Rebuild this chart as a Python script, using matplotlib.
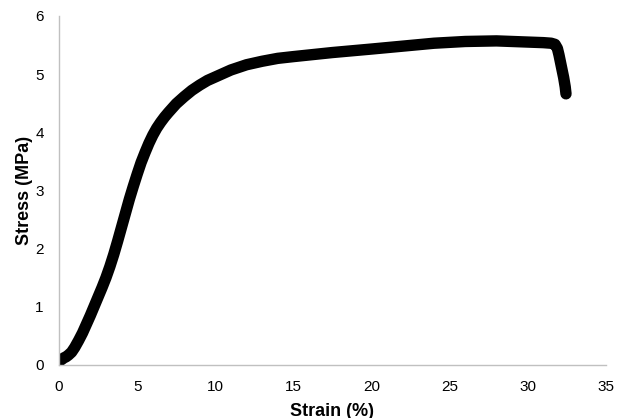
import matplotlib
matplotlib.use("Agg")
import matplotlib.pyplot as plt
import numpy as np

strain = [0.0, 0.15, 0.3, 0.45, 0.6, 0.8, 1.0, 1.25, 1.5, 1.75, 2.0, 2.25, 2.5,
          2.75, 3.0, 3.25, 3.5, 3.75, 4.0, 4.25, 4.5, 4.75, 5.0, 5.25, 5.5,
          5.75, 6.0, 6.25, 6.5, 6.75, 7.0, 7.5, 8.0, 8.5, 9.0, 9.5, 10.0,
          11.0, 12.0, 13.0, 14.0, 15.0, 17.5, 20.0, 22.0, 24.0, 26.0, 28.0,
          30.0, 31.0, 31.5, 31.75, 31.9, 32.0, 32.1, 32.2, 32.3, 32.4, 32.45]
stress = [0.06, 0.09, 0.12, 0.14, 0.17, 0.22, 0.30, 0.42, 0.55, 0.70, 0.85,
          1.01, 1.17, 1.33, 1.50, 1.69, 1.90, 2.13, 2.37, 2.61, 2.85, 3.07,
          3.28, 3.48, 3.65, 3.81, 3.95, 4.07, 4.17, 4.26, 4.34, 4.49, 4.61,
          4.72, 4.81, 4.89, 4.95, 5.07, 5.16, 5.22, 5.27, 5.30, 5.37, 5.43,
          5.48, 5.53, 5.56, 5.57, 5.55, 5.54, 5.53, 5.51, 5.44, 5.33, 5.20,
          5.07, 4.94, 4.78, 4.66]
xticks = [0, 5, 10, 15, 20, 25, 30, 35]
yticks = [0, 1, 2, 3, 4, 5, 6]

plt.rcParams['font.family'] = ['Liberation Sans', 'DejaVu Sans']

fig = plt.figure(figsize=(6.22, 4.18), dpi=100)
ax = fig.add_axes([0.095, 0.127, 0.879, 0.835])
ax.plot(strain, stress, color='black', lw=8.2, solid_capstyle='round',
        solid_joinstyle='round')
ax.set_xlim(0, 35)
ax.set_ylim(0, 6)
ax.set_xticks(xticks)
ax.set_yticks(yticks)
ax.tick_params(axis='x', length=0, labelsize=11, pad=11)
ax.tick_params(axis='y', length=0, labelsize=11, pad=11)
for s in ['top', 'right']:
    ax.spines[s].set_visible(False)
for s in ['left', 'bottom']:
    ax.spines[s].set_color('#c0c0c0')
    ax.spines[s].set_linewidth(1)
ax.set_xlabel('Strain (%)', fontsize=13, fontweight='bold', labelpad=6)
ax.set_ylabel('Stress (MPa)', fontsize=13, fontweight='bold', labelpad=1.5)
fig.savefig('out.png', dpi=100)
